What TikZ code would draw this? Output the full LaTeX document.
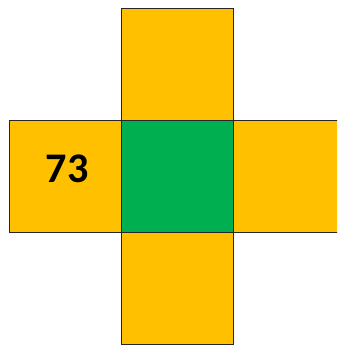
\documentclass[tikz,border=0pt]{standalone}
\usepackage{fontspec}
\setmainfont{Carlito}
\definecolor{cellorange}{HTML}{FFC000}
\definecolor{cellgreen}{HTML}{00B050}
\tikzset{
	cell/.style={draw=black!85,line width=0.7pt,minimum size=112*0.03cm,inner sep=0pt,outer sep=0pt},
}
\begin{document}
\begin{tikzpicture}[x=0.03cm,y=-0.03cm]
					\clip (0,0) rectangle (337,345);
					\node[cell,fill=cellgreen] (mid) at (177,176) {};
					\node[cell,fill=cellorange] (top) at (177,64) {};
					\node[cell,fill=cellorange] (bot) at (177,288) {};
					\node[cell,fill=cellorange] (left) at (65,176) {};
					\node[cell,fill=cellorange] (right) at (289,176) {};
					\node[font=\bfseries\fontsize{36}{40}\selectfont] (num) at (67,169) {73};
				\end{tikzpicture}
\end{document}
